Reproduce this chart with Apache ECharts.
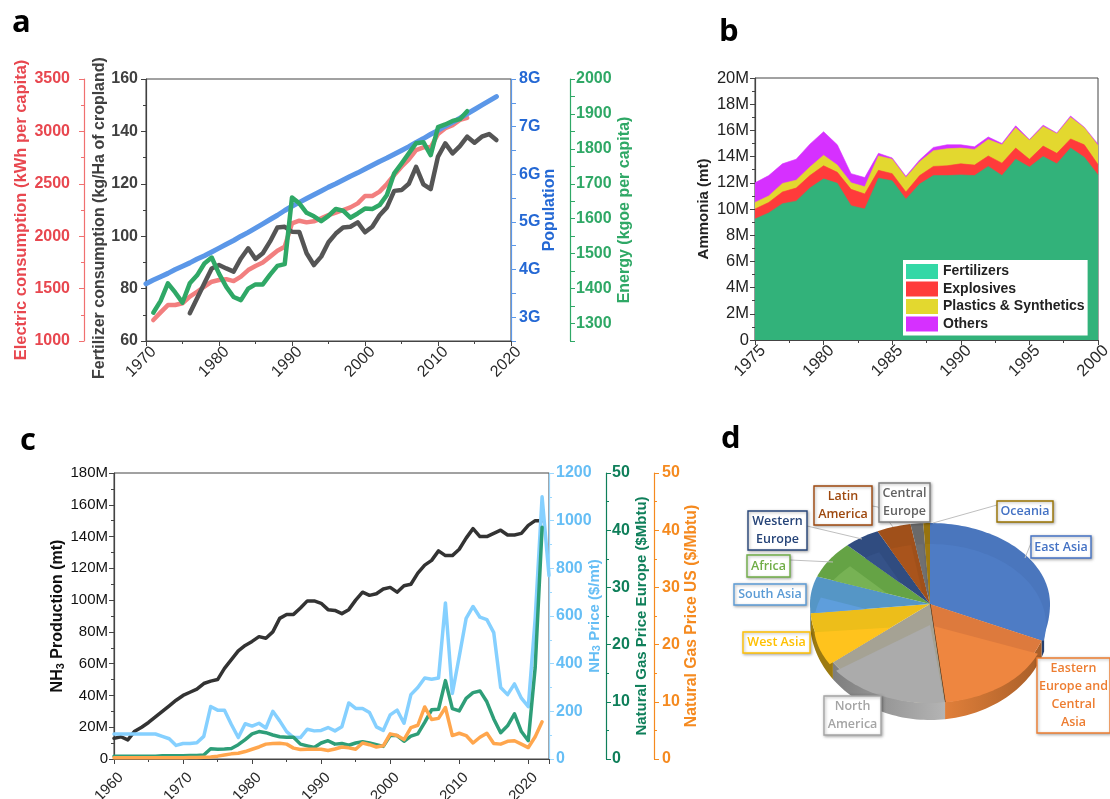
<!DOCTYPE html>
<html><head><meta charset="utf-8">
<style>html,body{margin:0;padding:0;background:#fff}#c{width:1110px;height:799px}</style>
<script src="https://cdn.jsdelivr.net/npm/echarts@6/dist/echarts.min.js"></script>
</head><body><div id="c"></div>
<script>
// ---- panel a ----
const aElectricYears=[1971,1972,1973,1974,1975,1976,1977,1978,1979,1980,1981,1982,1983,1984,1985,1986,1987,1988,1989,1990,1991,1992,1993,1994,1995,1996,1997,1998,1999,2000,2001,2002,2003,2004,2005,2006,2007,2008,2009,2010,2011,2012,2013,2014];
const aElectric=[1200,1273,1343,1343,1360,1423,1470,1518,1566,1582,1590,1572,1614,1677,1716,1750,1805,1862,1900,2123,2148,2132,2142,2170,2202,2225,2250,2275,2313,2384,2384,2425,2498,2584,2663,2733,2822,2848,2848,2975,3030,3060,3110,3130];
const aEnergy=[1331,1365,1415,1389,1360,1415,1438,1472,1489,1443,1405,1376,1367,1400,1412,1412,1440,1465,1470,1661,1644,1617,1607,1593,1608,1628,1623,1603,1615,1629,1628,1639,1668,1730,1758,1787,1816,1819,1782,1862,1870,1880,1885,1908];
const aFertYears=[1976,1977,1978,1979,1980,1981,1982,1983,1984,1985,1986,1987,1988,1989,1990,1991,1992,1993,1994,1995,1996,1997,1998,1999,2000,2001,2002,2003,2004,2005,2006,2007,2008,2009,2010,2011,2012,2013,2014,2015,2016,2017,2018];
const aFert=[70.6,76.3,82,87.7,89,87.7,86.5,91.5,95.4,91.3,93.5,98,103.3,103.6,101.7,101.6,93.5,89,92.2,97.7,101,103.3,103.6,105.3,101.5,103.6,108,111,117.3,117.6,120,126.5,119.8,118,130.4,135.4,131.6,134.4,138,135.7,138,139,136.7];
const aPopYears=[1970,1971,1972,1973,1974,1975,1976,1977,1978,1979,1980,1981,1982,1983,1984,1985,1986,1987,1988,1989,1990,1991,1992,1993,1994,1995,1996,1997,1998,1999,2000,2001,2002,2003,2004,2005,2006,2007,2008,2009,2010,2011,2012,2013,2014,2015,2016,2017,2018];
const aPop=[3.70,3.78,3.85,3.92,4.00,4.07,4.14,4.22,4.29,4.37,4.45,4.53,4.61,4.70,4.78,4.87,4.96,5.05,5.14,5.24,5.33,5.41,5.49,5.57,5.65,5.73,5.80,5.88,5.96,6.03,6.11,6.19,6.27,6.34,6.42,6.50,6.58,6.67,6.75,6.84,6.92,7.01,7.09,7.18,7.27,7.36,7.45,7.54,7.63];
// ---- panel b ----
const bYears=[1975,1976,1977,1978,1979,1980,1981,1982,1983,1984,1985,1986,1987,1988,1989,1990,1991,1992,1993,1994,1995,1996,1997,1998,1999,2000];
const bFertilizers=[9.24,9.7,10.4,10.6,11.6,12.3,11.96,10.25,10,12.35,12.15,10.75,11.9,12.55,12.55,12.6,12.55,13.25,12.55,13.8,13.2,14,13.45,14.65,13.95,12.6];
const bExplosives=[.76,.8,.9,1,.95,1,.84,1.25,1.15,.6,.55,.55,.65,.7,.75,.85,.8,.8,.95,.85,.6,.8,.8,.7,.95,.8];
const bPlastics=[.5,.5,.65,.6,.65,.8,.55,.5,.55,1.1,1.1,1.1,1.05,1.2,1.3,1.2,1.2,1.25,1.4,1.55,1.45,1.5,1.5,1.65,1.3,1.45];
const bOthers=[1.5,1.55,1.5,1.6,1.75,1.8,1.55,.7,.7,.2,.1,.1,.15,.25,.3,.25,.2,.2,.1,.15,.05,.1,.05,.1,.05,.1];
// ---- panel c ----
const cYears=[1960,1961,1962,1963,1964,1965,1966,1967,1968,1969,1970,1971,1972,1973,1974,1975,1976,1977,1978,1979,1980,1981,1982,1983,1984,1985,1986,1987,1988,1989,1990,1991,1992,1993,1994,1995,1996,1997,1998,1999,2000,2001,2002,2003,2004,2005,2006,2007,2008,2009,2010,2011,2012,2013,2014,2015,2016,2017,2018,2019,2020,2021,2022];
const cPriceYears=cYears.concat([2023]);
const cProduction=[13,14,12,17.5,20,23,26.5,30,33.5,37,40,42,44,47.5,49,50,57,62.5,68,71.5,74,77,76,80,88.5,91,91,95,99.5,99.5,98,94,93.5,91.5,94,100,105,103,104,107,108,105,109,110,117,122,125,131,128,128,132,139,145,140,140,142,144,141,141,142,147,150,150];
const cPrice=[105,105,105,105,105,105,105,95,85,57,65,65,68,95,220,205,205,145,90,148,138,150,130,200,160,115,90,90,125,118,120,132,118,135,235,212,212,195,135,120,185,205,150,270,300,340,335,340,655,275,430,590,640,595,585,530,300,270,315,255,220,590,1100,770];
const cEurope=[.5,.5,.5,.5,.5,.5,.5,.55,.55,.55,.55,.6,.6,.7,1.8,1.7,1.75,1.85,2.5,3.4,4.4,4.8,4.6,4.2,3.9,3.8,3.8,2.6,2.3,2,2.8,3.2,2.6,2.7,2.4,2.8,3,2.8,2.5,2.2,4.1,4.1,3.1,4,4.4,6.4,8.6,8.7,13.7,8.8,8.4,10.6,11.6,11.9,10,7,4.6,5.8,7.9,4.8,3.2,16,40.5];
const cUS=[.2,.2,.2,.2,.2,.2,.2,.2,.2,.2,.2,.25,.25,.3,.35,.5,.7,.9,1,1.3,1.7,2.1,2.6,2.7,2.75,2.6,1.9,1.65,1.7,1.7,1.7,1.5,1.75,2.1,1.95,1.7,2.8,2.5,2.1,2.3,4.4,4.1,3.4,5.5,5.9,9.1,6.9,7.1,9,4.1,4.5,4.1,2.8,3.8,4.5,2.7,2.6,3.1,3.2,2.6,2,3.9,6.5];
// ---- panel d ----
const pieNames=['East Asia','Eastern\nEurope and\nCentral\nAsia','North\nAmerica','West Asia','South Asia','Africa','Western\nEurope','Latin\nAmerica','Central\nEurope','Oceania'];
const pieValues=[31,17,17,8.5,7,7.4,4.9,4.6,1.7,.9];

const FONT='"Liberation Sans",Arial,sans-serif';
const zip=(x,y)=>x.map((v,i)=>[v,y[i]]);
// running totals so the areas of panel b pile up on each other
const bTop1=bFertilizers, bTop2=bTop1.map((v,i)=>v+bExplosives[i]), bTop3=bTop2.map((v,i)=>v+bPlastics[i]), bTop4=bTop3.map((v,i)=>v+bOthers[i]);

function yAx(o){
  const col=o.color;
  return {type:'value',gridIndex:o.grid,position:o.pos,offset:o.offset||0,min:o.min,max:o.max,interval:o.interval,
    name:o.name,nameLocation:'middle',nameGap:o.gap,nameRotate:90,nameMoveOverlap:false,
    nameTextStyle:{color:col,fontFamily:FONT,fontWeight:'bold',fontSize:o.nameSize||16,rich:o.rich,padding:o.namePad||0},
    axisLine:{show:true,onZero:false,lineStyle:{color:o.lineColor||col,width:o.lw||1.2}},
    axisTick:{show:true,length:o.tick||5,lineStyle:{color:o.lineColor||col,width:1}},
    minorTick:o.minor?{show:true,splitNumber:2,length:3,lineStyle:{color:o.lineColor||col}}:{show:false},
    splitLine:{show:false},
    axisLabel:{color:col,fontFamily:FONT,fontWeight:o.lblWeight||'bold',fontSize:o.size||16,margin:o.margin||6,formatter:o.fmt||(v=>String(v)),hideOverlap:false,showMinLabel:true,showMaxLabel:true}};
}
function xAx(o){
  return {type:'value',gridIndex:o.grid,min:o.min,max:o.max,interval:o.interval,
    axisLine:{show:true,onZero:false,lineStyle:{color:'#444',width:1.2}},
    axisTick:{show:true,length:5,lineStyle:{color:'#444'}},
    minorTick:{show:o.minor!==false,splitNumber:2,length:3,lineStyle:{color:'#444'}},
    splitLine:{show:false},
    axisLabel:{rotate:45,align:'center',verticalAlign:'middle',padding:[0,14,0,0],color:'#2a2a2a',fontFamily:FONT,fontWeight:o.weight||'normal',fontSize:o.size||16,margin:o.margin||16,
      formatter:o.fmt||(v=>String(v)),showMaxLabel:o.showMax!==false}};
}
function lineS(name,x,y,data,color,width,z){
  return {name,type:'line',xAxisIndex:x,yAxisIndex:y,data,showSymbol:false,smooth:false,z:z||2,clip:false,
    lineStyle:{color,width,cap:'round',join:'round'},animation:false};
}
function areaS(name,data,color,z){
  return {name,type:'line',xAxisIndex:1,yAxisIndex:4,data,showSymbol:false,z,
    lineStyle:{color,width:.6},areaStyle:{color,opacity:1,origin:'start'},itemStyle:{color},animation:false};
}

// ---- pseudo-3D pie geometry, driven by pieValues ----
const pieTop=['#4E7CC5','#EE8640','#ABABAB','#FFC31D','#5E9EDC','#77B254','#355288','#A9541C','#707070','#A07A10'];
const pieBase=['#4A76BD','#DD7A3D','#A5A294','#EDBE1A','#5596C6','#65A345','#304C80','#A0501A','#6A6A6A','#97730F'];
const pieWall=['#26406E','#D26F2C','#8F8F8F','#9C7A10','#3E6E9E','#4F7F32','#1C3058','#703810','#484848','#6E5408'];
const total=pieValues.reduce((a,b)=>a+b,0);
const CX=930,CY=604,RX=120,RT=81,RB=99,DEPTH=17;
const P=(t)=>[CX+RX*Math.sin(t),CY-(Math.cos(t)>0?RT:RB)*Math.cos(t)];
const Q=(t)=>[CX+116*Math.sin(t),CY+21-(Math.cos(t)>0?81:78)*Math.cos(t)];
function arc(fn,a,b){const n=Math.max(2,Math.ceil((b-a)/0.03));const r=[];for(let i=0;i<=n;i++)r.push(fn(a+(b-a)*i/n));return r;}
function clipHalf(poly,A,B,keepRight){ // keep the side of line A->B
  const side=p=>{const v=(B[0]-A[0])*(p[1]-A[1])-(B[1]-A[1])*(p[0]-A[0]);return keepRight?v:-v;};
  const out=[];
  poly.forEach((p,i)=>{
    const q=poly[(i+1)%poly.length],sp=side(p),sq=side(q);
    if(sp>=0)out.push(p);
    if(sp*sq<0){const t=sp/(sp-sq);out.push([p[0]+(q[0]-p[0])*t,p[1]+(q[1]-p[1])*t]);}
  });
  return out;
}
function renderPie(params){
  const i=params.dataIndex;
  let s=0;for(let k=0;k<i;k++)s+=pieValues[k];
  const a=s/total*2*Math.PI,b=(s+pieValues[i])/total*2*Math.PI;
  const kids=[];
  const wa=Math.max(a,108*Math.PI/180),wb=Math.min(b,268*Math.PI/180);
  if(wb>wa){
    const top=arc(P,wa,wb),bot=top.map(p=>[p[0],p[1]+DEPTH]).reverse();
    const wallFill=i===2?new echarts.graphic.LinearGradient(0,0,1,0,[{offset:0,color:'#7E7E7E'},{offset:1,color:'#B4B4B4'}]):
      i===1?new echarts.graphic.LinearGradient(0,0,1,0,[{offset:0,color:'#E07F3A'},{offset:1,color:'#A85E28'}]):pieWall[i];
    kids.push({type:'polygon',shape:{points:top.concat(bot)},style:{fill:wallFill}});
  }
  kids.push({type:'polygon',shape:{points:[[CX,CY]].concat(arc(P,a,b))},style:{fill:pieBase[i]}});
  let ov=[[CX,CY+21]].concat(arc(Q,a,b));
  ov=clipHalf(ov,[CX,CY],P(a),true);
  ov=clipHalf(ov,[CX,CY],P(b),false);
  if(ov.length>2)kids.push({type:'polygon',shape:{points:ov},style:{fill:pieTop[i]}});
  if(i===1){const e=P(b);kids.push({type:'line',shape:{x1:CX,y1:CY,x2:e[0],y2:e[1]},style:{stroke:'#4a2c10',lineWidth:1.2}});}
  return {type:'group',children:kids};
}
// label boxes for the pie: [x, y, w, h] in page pixels, one per pieNames item
const boxes=[[1031,536,60,22],[1037,658,73,75],[824,696,57,39],[743,632,67,21],[734,584,72,21],[747,555,43,22],[748,511,59,39],[814,486,58,39],[879,483,51,39],[997,501,56,21]];
const boxStroke=['#4472C4','#ED7D31','#A5A5A5','#FFC000','#5B9BD5','#70AD47','#264478','#9E480E','#7F7F7F','#997300'];
const boxText=['#4472C4','#ED7D31','#A5A5A5','#FFC000','#5B9BD5','#70AD47','#264478','#9E480E','#636363','#4472C4'];
const leaders=[[[1031,543],[1025,558]],[[997,505],[933,523]],[[872,506],[878,507],[893,527]],[[807,526],[862,539]],[[790,560],[833,562]]];
const gfx=[];
leaders.forEach(p=>gfx.push({type:'polyline',silent:true,z:20,shape:{points:p},style:{stroke:'#BFBFBF',fill:null,lineWidth:1}}));
pieNames.forEach((n,i)=>{
  const [x,y,w,h]=boxes[i];
  gfx.push({type:'rect',z:21,shape:{x,y,width:w,height:h},style:{fill:'#fff',stroke:boxStroke[i],lineWidth:1.4,shadowBlur:3,shadowOffsetX:1,shadowOffsetY:1,shadowColor:'rgba(0,0,0,.3)'}});
  gfx.push({type:'text',z:22,x:x+w/2,y:y+h/2,style:{text:n,fill:boxText[i],font:'600 12.5px "Open Sans",sans-serif',align:'center',verticalAlign:'middle',lineHeight:18}});
});
[['a',12,8],['b',719,17],['c',20,426],['d',721,424]].forEach(t=>gfx.push({type:'text',z:30,x:t[1],y:t[2],style:{text:t[0],fill:'#000',font:'bold 31px "Open Sans",sans-serif'}}));

const subRich={sub:{fontSize:11,fontWeight:'bold',verticalAlign:'bottom',lineHeight:14,fontFamily:FONT}};
const gridBase={show:true,borderColor:'#444',borderWidth:1,backgroundColor:'transparent',outerBoundsMode:'none',containLabel:false};
const option={
  backgroundColor:'#fff',animation:false,textStyle:{fontFamily:FONT},
  grid:[
    Object.assign({left:146,top:79,width:365,height:262},gridBase),
    Object.assign({left:755,top:78,width:343,height:262},gridBase),
    Object.assign({left:114,top:473,width:435,height:286},gridBase)
  ],
  xAxis:[
    xAx({grid:0,min:1970,max:2020,interval:10,size:16}),
    xAx({grid:1,min:1975,max:2000,interval:5,size:16.5}),
    xAx({grid:2,min:1960,max:2023,interval:10,minor:true,size:15,margin:23,fmt:v=>v%10===0?String(v):'',showMax:false})
  ],
  yAxis:[
    yAx({grid:0,pos:'left',offset:62,min:1000,max:3500,interval:500,color:'#E8474F',lineColor:'#F07070',name:'Electric consumption (kWh per capita)',gap:54,nameSize:16.5,minor:true,margin:14}),
    yAx({grid:0,pos:'left',min:60,max:160,interval:20,color:'#404040',name:'Fertilizer consumption (kg/Ha of cropland)',gap:38,namePad:[0,16,0,0],minor:true,margin:8}),
    yAx({grid:0,pos:'right',min:2.5,max:8,interval:.5,color:'#2468D4',lineColor:'#5B97E8',name:'Population',gap:31,margin:8,fmt:v=>Number.isInteger(v)?v+'G':''}),
    yAx({grid:0,pos:'right',offset:59,min:1250,max:2000,interval:50,color:'#2FA866',name:'Energy (kgoe per capita)',gap:47,margin:6,fmt:v=>v%100===0?String(v):''}),
    yAx({grid:1,pos:'left',min:0,max:20,interval:2,color:'#222',lineColor:'#444',name:'Ammonia (mt)',gap:44,nameSize:15,minor:true,lblWeight:'normal',size:16.5,fmt:v=>v?v+'M':'0'}),
    yAx({grid:2,pos:'left',min:0,max:180,interval:20,color:'#111',lineColor:'#444',name:'NH{sub|3} Production (mt)',rich:subRich,gap:48,nameSize:16,minor:true,lblWeight:'normal',size:15,fmt:v=>v?v+'M':'0'}),
    yAx({grid:2,pos:'right',min:0,max:1200,interval:200,color:'#66BEF5',lineColor:'#9AD8FF',name:'NH{sub|3} Price ($/mt)',rich:Object.assign({},subRich),gap:38,nameSize:15,margin:7,minor:true,size:16}),
    yAx({grid:2,pos:'right',offset:57,min:0,max:50,interval:10,color:'#0F7F5A',name:'Natural Gas Price Europe ($Mbtu)',gap:28,nameSize:15,margin:6,minor:true,size:16}),
    yAx({grid:2,pos:'right',offset:105,min:0,max:50,interval:10,color:'#F58A1F',name:'Natural Gas Price US ($/Mbtu)',gap:30,nameSize:15.7,margin:8,minor:true,size:16})
  ],
  legend:{show:true,z:10,orient:'vertical',left:903,top:260,width:186,height:71,padding:[4,3,4,3],itemGap:2.5,itemWidth:32,itemHeight:15,
    backgroundColor:'#fff',icon:'rect',selectedMode:false,
    textStyle:{fontFamily:FONT,fontWeight:'bold',fontSize:14,color:'#222'},
    data:[{name:'Fertilizers',itemStyle:{color:'#34D8A6'}},{name:'Explosives',itemStyle:{color:'#FF3B3B'}},{name:'Plastics & Synthetics',itemStyle:{color:'#E3D82F'}},{name:'Others',itemStyle:{color:'#D630FF'}}]},
  graphic:gfx,
  series:[
    lineS('Electric consumption',0,0,zip(aElectricYears,aElectric),'#F27F7F',4.5,2),
    lineS('Fertilizer consumption',0,1,zip(aFertYears,aFert),'#555555',4.5,3),
    lineS('Population',0,2,zip(aPopYears,aPop),'#5B97E8',5,4),
    lineS('Energy',0,3,zip(aElectricYears,aEnergy),'#2FA866',4.5,5),
    areaS('Others',zip(bYears,bTop4),'#D630FF',2),
    areaS('Plastics & Synthetics',zip(bYears,bTop3),'#E3D82F',3),
    areaS('Explosives',zip(bYears,bTop2),'#FF3B3B',4),
    areaS('Fertilizers',zip(bYears,bTop1),'#32B27A',5),
    lineS('NH3 Production',2,5,zip(cYears,cProduction),'#333333',3.5,2),
    lineS('NH3 Price',2,6,zip(cPriceYears,cPrice),'#85D0FF',3.5,3),
    lineS('Natural Gas Price Europe',2,7,zip(cYears,cEurope),'#2E9E78',3.5,4),
    lineS('Natural Gas Price US',2,8,zip(cYears,cUS),'#FFA64D',3.5,5),
    {type:'custom',name:'Regions',coordinateSystem:'none',renderItem:renderPie,silent:true,z:6,animation:false,
      data:pieValues.map((v,i)=>({name:pieNames[i],value:v}))}
  ]
};
echarts.init(document.getElementById('c')).setOption(option);
</script></body></html>
